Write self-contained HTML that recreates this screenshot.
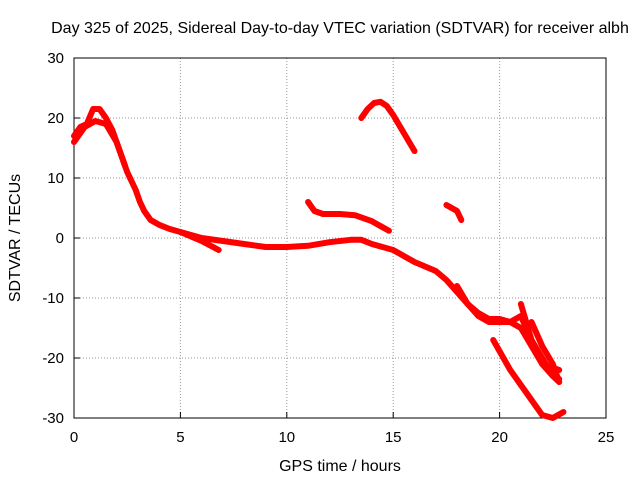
<!DOCTYPE html>
<html><head><meta charset="utf-8"><style>
body{margin:0;background:#fff}
svg{display:block;font-family:"Liberation Sans",sans-serif}
</style></head><body>
<svg width="640" height="480">
<g id="grid"></g>
<g id="axes"></g>
<g id="series"></g>
<text x="340" y="33" font-size="16" text-anchor="middle">Day 325 of 2025, Sidereal Day-to-day VTEC variation (SDTVAR) for receiver albh</text>
<text x="340" y="471" font-size="16" text-anchor="middle">GPS time / hours</text>
<text x="20" y="238" font-size="16" text-anchor="middle" transform="rotate(-90 20 238)">SDTVAR / TECUs</text>
</svg>
<script>
const xTicks=[0,5,10,15,20,25];
const yTicks=[-30,-20,-10,0,10,20,30];
const segA=[[0,17],[0.3,18.5],[0.6,19],[0.9,21.5],[1.2,21.5],[1.5,20],[1.8,18],[2.1,15],[2.5,11],[2.9,8],[3.1,6],[3.3,4.5],[3.6,3],[4,2.2],[4.5,1.5],[5,1],[5.5,0.5],[6,0],[7,-0.5],[8,-1],[9,-1.5],[10,-1.5],[11,-1.3],[12,-0.7],[13,-0.3],[13.5,-0.3],[14,-1],[15,-2],[16,-4],[17,-5.5],[17.5,-7],[18,-9],[18.5,-11],[19,-12.5],[19.5,-13.5],[20,-13.5],[20.5,-14],[21,-15],[21.5,-18],[22,-21],[22.5,-23],[22.8,-24]];
const segB=[[0,16],[0.5,18.5],[1,19.5],[1.5,19],[2,16],[2.4,12]];
const segC=[[5,1],[6,-0.5],[6.8,-2]];
const segD=[[18,-8],[18.5,-11],[19,-13],[19.5,-14],[20,-14],[20.5,-14],[21,-13],[21.5,-17],[22,-20],[22.5,-23],[22.8,-23.5]];
const segE=[[21,-11],[21.5,-17],[22,-21],[22.8,-22]];
const segF=[[21.5,-14],[22,-18],[22.5,-21],[22.8,-24]];
const segG=[[19.7,-17],[20.5,-22],[21.5,-27],[22,-29.5],[22.5,-30],[23,-29]];
const segH=[[13.5,20],[13.8,21.5],[14.1,22.5],[14.4,22.7],[14.7,22],[15,20.5],[15.5,17.5],[16,14.5]];
const segI=[[11,6],[11.3,4.5],[11.7,4],[12.5,4],[13.2,3.8],[14,2.8],[14.8,1.2]];
const segJ=[[17.5,5.5],[18,4.5],[18.2,3]];
const segments=[segA,segB,segC,segD,segE,segF,segG,segH,segI,segJ];
const X0=74,X1=606,Y0=58,Y1=418;
const sx=v=>X0+(v-0)/25*(X1-X0);
const sy=v=>Y1-(v+30)/60*(Y1-Y0);
const NS="http://www.w3.org/2000/svg";
function mk(t,a,p){const e=document.createElementNS(NS,t);for(const k in a)e.setAttribute(k,a[k]);p.appendChild(e);return e;}
const grid=document.getElementById('grid'),axes=document.getElementById('axes'),ser=document.getElementById('series');
xTicks.forEach(t=>{
 if(t>0&&t<25){const l=mk('line',{x1:sx(t),x2:sx(t),y1:Y0,y2:Y1,stroke:'#999','stroke-dasharray':'1,2'},grid);
 
 }
 const tk=mk('line',{x1:sx(t),x2:sx(t),y1:Y1,y2:Y1-6,stroke:'#000'},axes);
 
 
 const tx=mk('text',{x:sx(t),y:Y1+24,'font-size':15,'text-anchor':'middle'},axes);tx.textContent=t;
 
 
});
yTicks.forEach(t=>{
 if(t>-30&&t<30){const l=mk('line',{x1:X0,x2:X1,y1:sy(t),y2:sy(t),stroke:'#999','stroke-dasharray':'1,2'},grid);
 
 }
 const tk=mk('line',{x1:X0,x2:X0+6,y1:sy(t),y2:sy(t),stroke:'#000'},axes);
 
 
 const tx=mk('text',{x:X0-10,y:sy(t)+5,'font-size':15,'text-anchor':'end'},axes);tx.textContent=t;
 
 
});
const fr=mk('rect',{x:X0,y:Y0,width:X1-X0,height:Y1-Y0,fill:'none',stroke:'#000'},axes);


segments.forEach(s=>{
 const p=mk('polyline',{points:s.map(d=>sx(d[0])+','+sy(d[1])).join(' '),fill:'none',stroke:'#f00','stroke-width':6,'stroke-linejoin':'round','stroke-linecap':'round'},ser);
 
 
});
</script>
</body></html>
